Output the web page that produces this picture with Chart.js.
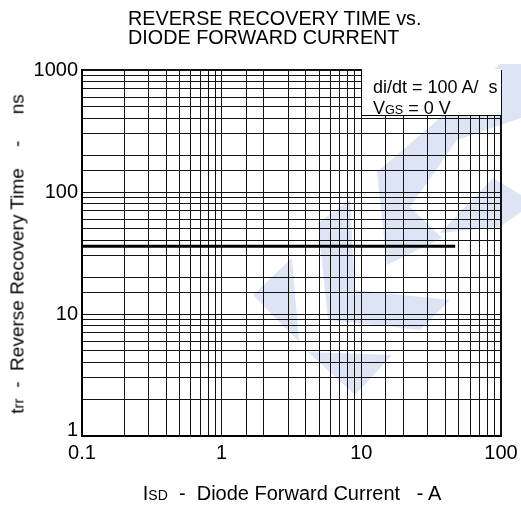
<!DOCTYPE html>
<html>
<head>
<meta charset="utf-8">
<script src="https://cdn.jsdelivr.net/npm/chart.js@4.4.1/dist/chart.umd.min.js"></script>
<style>
  html, body { margin: 0; padding: 0; background: #fff; }
  body { width: 521px; height: 507px; position: relative; overflow: hidden;
         font-family: "Liberation Sans", Arial, sans-serif; color: #000; }
  #wm { position: absolute; left: 0; top: 0; }
  #wrap { position: absolute; left: 0; top: 0; width: 521px; height: 507px; }
  .t { position: absolute; white-space: pre; line-height: 1; }
  .s { font-size: 0.7em; }
  #title { left: 128px; top: 9px; font-size: 19.8px; line-height: 19px; }
  #ytitle { left: 17px; top: 254px; font-size: 19px; transform: translate(-50%, -50%) rotate(-90deg); }
  #ytitle .s { font-size: 0.8em; }
  #xtitle { left: 292px; top: 493px; font-size: 20px; transform: translate(-50%, -50%); }
  #box { position: absolute; left: 361px; top: 69px; width: 139px; height: 46px;
         background: #fff; border-left: 1px solid #000; border-bottom: 1px solid #000; }
  #box div { position: absolute; left: 11px; font-size: 18px; white-space: pre; line-height: 1; }
</style>
</head>
<body>
<svg id="wm" width="521" height="507">
  <g fill="#dde5f5">
    <polygon points="253,295 292,258 299,342"/>
    <polygon points="318,223 350,200 355,290 450,300 420,330 328,320"/>
    <polygon points="308,352 392,355 355,395"/>
    <polygon points="377,172 440,118 457,140 410,207 442,238 387,265"/>
    <polygon points="440,233 493,178 521,195 521,212 500,227"/>
    <polygon points="440,118 500,64 521,64 521,118 457,140"/>
  </g>
</svg>
<div id="wrap"><canvas id="grafico" width="521" height="507"></canvas></div>
<div id="title" class="t">REVERSE RECOVERY TIME vs.
DIODE FORWARD CURRENT</div>
<div id="ytitle" class="t">t<span class="s">rr</span>  -  Reverse Recovery Time    -     ns</div>
<div id="xtitle" class="t">I<span class="s">SD</span>  -  Diode Forward Current   - A</div>
<div id="box">
  <div style="top:9px">di/dt = 100 A/  s</div>
  <div style="top:30px">V<span class="s">GS</span> = 0 V</div>
</div>
<script>
const correnteX = [0.1, 47];
const tempoY = [36, 36];
const ticksX = [0.1, 1, 10, 100];
const rotulosX = ["0.1", "1", "10", "100"];
const ticksY = [1, 10, 100, 1000];
const rotulosY = ["1", "10", "100", "1000"];

const rotulos = {
    id: 'rotulos',
    afterDraw(chart) {
        const ctx = chart.ctx;
        const sx = chart.scales.x, sy = chart.scales.y;
        ctx.save();
        ctx.fillStyle = '#000';
        ctx.font = '20px "Liberation Sans", Arial, sans-serif';
        ctx.textAlign = 'center';
        ctx.textBaseline = 'middle';
        ticksX.forEach((v, i) => ctx.fillText(rotulosX[i], sx.getPixelForValue(v), 453));
        ctx.textAlign = 'right';
        ticksY.forEach((v, i) => ctx.fillText(rotulosY[i], 78, Math.min(sy.getPixelForValue(v), chart.chartArea.bottom - 6)));
        ctx.restore();
    }
};

// linhas da borda mais grossas
const bordaX = ctx => (ctx.tick && (ctx.tick.value === 0.1 || ctx.tick.value === 100)) ? 2 : 1;
const bordaY = ctx => (ctx.tick && (ctx.tick.value === 1 || ctx.tick.value === 1000)) ? 2 : 1;

new Chart(document.getElementById('grafico'), {
    type: 'line',
    data: {
        datasets: [{
            data: correnteX.map((x, i) => ({ x: x, y: tempoY[i] })),
            borderColor: '#000',
            borderWidth: 3,
            pointRadius: 0,
            fill: false
        }]
    },
    options: {
        responsive: false,
        animation: false,
        events: [],
        layout: { padding: { left: 0, top: 70, right: 20, bottom: 31 } },
        plugins: { legend: { display: false }, tooltip: { enabled: false } },
        scales: {
            x: {
                type: 'logarithmic', min: 0.1, max: 100,
                afterFit(s) { s.height = 40; },
                grid: { color: '#111', lineWidth: bordaX, drawTicks: false },
                border: { color: '#000', width: 2 },
                ticks: { display: false, autoSkip: false }
            },
            y: {
                type: 'logarithmic', min: 1, max: 1000,
                afterFit(s) { s.width = 82; },
                grid: { color: '#111', lineWidth: bordaY, drawTicks: false },
                border: { color: '#000', width: 2 },
                ticks: { display: false, autoSkip: false }
            }
        }
    },
    plugins: [rotulos]
});
</script>
</body>
</html>
